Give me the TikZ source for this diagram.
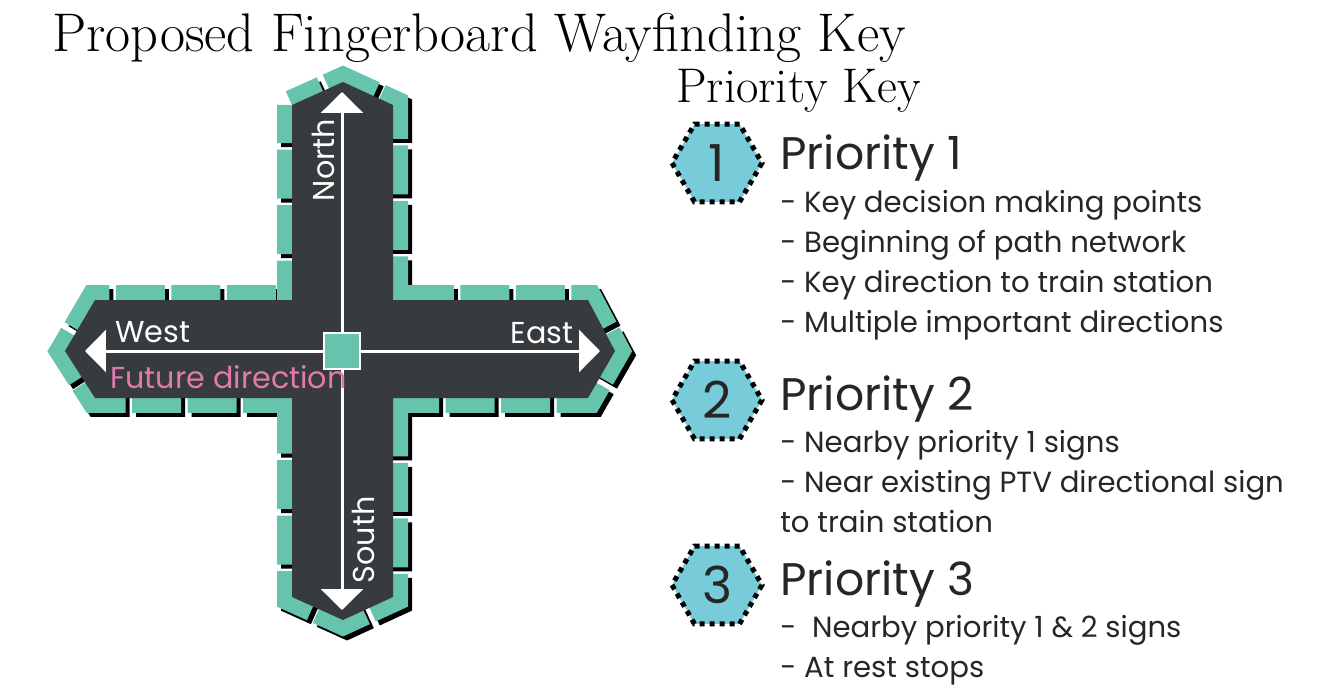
\documentclass[tikz,border=0pt]{standalone}
\usepackage{fontspec}
\setsansfont{Poppins}
\usetikzlibrary{shapes.geometric,arrows.meta,positioning}

\definecolor{signteal}{RGB}{102,196,173}
\definecolor{signdark}{RGB}{56,59,62}
\definecolor{hexblue}{RGB}{120,204,218}
\definecolor{futpink}{RGB}{226,122,172}

\newcommand{\headfont}{\sffamily\fontsize{26}{31}\selectfont}
\newcommand{\numfont}{\sffamily\fontsize{29}{34}\selectfont}
\newcommand{\keyfont}{\sffamily\fontsize{16.6}{22.76}\selectfont}
\newcommand{\compassfont}{\sffamily\fontsize{17.2}{21}\selectfont}

\begin{document}
\begin{tikzpicture}[x=0.02cm,y=-0.02cm]

\tikzstyle{crossshape}=[insert path={(292,105) -- (343,82) -- (393,105) -- (393,300) -- (588,300) -- (615,351) -- (588,398) -- (393,398) -- (393,597) -- (343,620) -- (292,597) -- (292,398) -- (95,398) -- (65,351) -- (95,300) -- (292,300) -- cycle}]
\tikzstyle{border}=[line width=0.6cm, dash pattern=on 0.98cm off 0.13cm, dash phase=0.3cm, miter limit=2]
\tikzstyle{axis}=[white, line width=0.06cm, -{Triangle[width=0.84cm,length=0.42cm]}]
\tikzstyle{compass}=[white, font=\compassfont, inner sep=0]
\tikzstyle{hexnode}=[regular polygon, regular polygon sides=6, minimum size=1.8cm, fill=hexblue, draw=black, line width=0.1cm, dash pattern=on 0.1cm off 0.1cm, inner sep=0, font=\numfont, text=black!85]
\tikzstyle{keyhead}=[anchor=base west, inner sep=0, font=\headfont, text=black!85]
\tikzstyle{keytext}=[anchor=base west, inner sep=0, align=left, font=\keyfont, text=black!85]

\useasboundingbox (0,0) rectangle (1336,696);

% titles
\node (title) [anchor=base west, inner sep=0, font=\fontsize{31}{37}\selectfont] at (52,52) {Proposed Fingerboard Wayfinding Key};
\node (keytitle) [anchor=base west, inner sep=0, font=\fontsize{27.7}{33}\selectfont] at (676,103) {Priority Key};

% fingerboard cross
\begin{scope}[shift={(4,4)}]
\draw[black, border, crossshape];
\end{scope}
\draw[signteal, border, crossshape];
\fill[signdark, crossshape];

\coordinate (ctr) at (342,351);
\coordinate (ntip) at (342,92);
\coordinate (stip) at (342,610);
\coordinate (wtip) at (85,351);
\coordinate (etip) at (600,351);
\draw[axis] (ctr) -- (ntip);
\draw[axis] (ctr) -- (stip);
\draw[axis] (ctr) -- (wtip);
\draw[axis] (ctr) -- (etip);
\node (hub) [draw=white, fill=signteal, line width=0.05cm, minimum size=0.72cm, inner sep=0] at (ctr) {};

\node (north) [compass, rotate=90] at (323,160) {North};
\node (south) [compass, rotate=90] at (363,540) {South};
\node (west) [compass] at (153,332) {West};
\node (east) [compass] at (542,333) {East};
\node (future) [compass, anchor=west, text=futpink] at (110,377) {Future direction};

% priority key
\node (hex1) [hexnode] at (717,163) {1};
\node (hex2) [hexnode] at (717,400) {2};
\node (hex3) [hexnode] at (717,585) {3};

\node (pri1) [keyhead] at (780,170) {Priority 1};
\node (pri1t) [keytext] at (780,332) {- Key decision making points\\- Beginning of path network\\- Key direction to train station\\- Multiple important directions};

\node (pri2) [keyhead] at (780,410) {Priority 2};
\node (pri2t) [keytext] at (780,532) {- Nearby priority 1 signs\\- Near existing PTV directional sign\\to train station};

\node (pri3) [keyhead] at (780,595) {Priority 3};
\node (pri3t) [keytext] at (780,677) {-\ \ Nearby priority 1 \& 2 signs\\- At rest stops};

\end{tikzpicture}
\end{document}
